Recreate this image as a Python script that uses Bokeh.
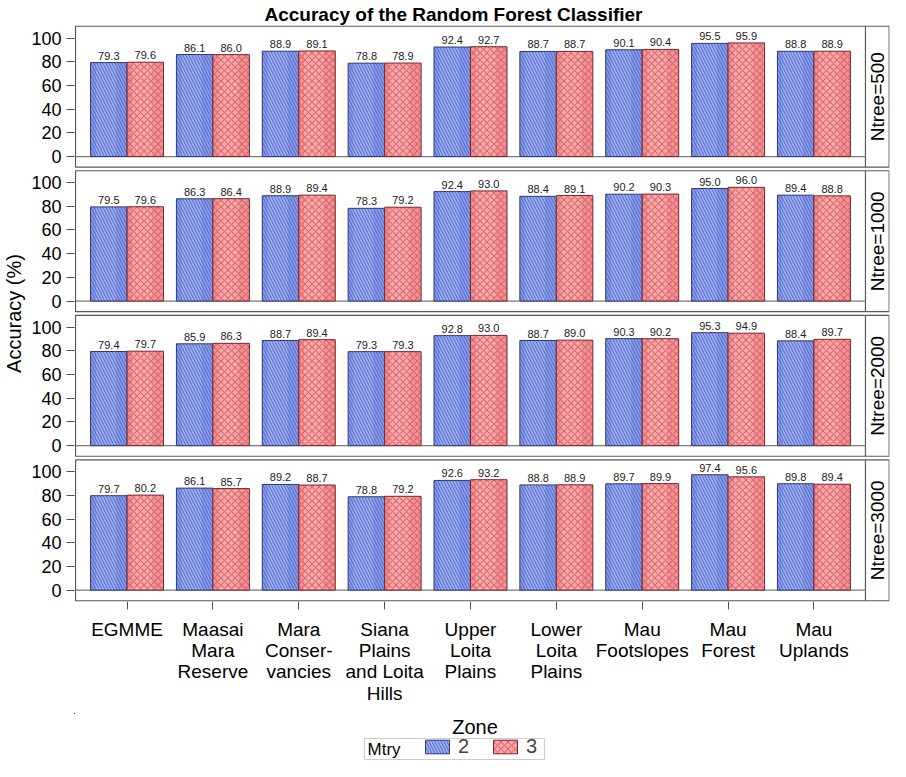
import math
from bokeh.plotting import figure
from bokeh.layouts import column
from bokeh.models import (ColumnDataSource, FixedTicker, Range1d, Legend, LegendItem,
                          Title, Label, BoxAnnotation)
from bokeh.transform import dodge
from bokeh.core.properties import value
from bokeh.embed import file_html
from bokeh.resources import INLINE

# ---------------- data ----------------
zones = ["EGMME", "Maasai\nMara\nReserve", "Mara\nConser-\nvancies",
         "Siana\nPlains\nand Loita\nHills", "Upper\nLoita\nPlains",
         "Lower\nLoita\nPlains", "Mau\nFootslopes", "Mau\nForest", "Mau\nUplands"]
ntree_labels = ["Ntree=500", "Ntree=1000", "Ntree=2000", "Ntree=3000"]
mtry_labels = ["2", "3"]
y_ticks = [0, 20, 40, 60, 80, 100]

acc_500_m2 = [79.3, 86.1, 88.9, 78.8, 92.4, 88.7, 90.1, 95.5, 88.8]
acc_500_m3 = [79.6, 86.0, 89.1, 78.9, 92.7, 88.7, 90.4, 95.9, 88.9]
acc_1000_m2 = [79.5, 86.3, 88.9, 78.3, 92.4, 88.4, 90.2, 95.0, 89.4]
acc_1000_m3 = [79.6, 86.4, 89.4, 79.2, 93.0, 89.1, 90.3, 96.0, 88.8]
acc_2000_m2 = [79.4, 85.9, 88.7, 79.3, 92.8, 88.7, 90.3, 95.3, 88.4]
acc_2000_m3 = [79.7, 86.3, 89.4, 79.3, 93.0, 89.0, 90.2, 94.9, 89.7]
acc_3000_m2 = [79.7, 86.1, 89.2, 78.8, 92.6, 88.8, 89.7, 97.4, 89.8]
acc_3000_m3 = [80.2, 85.7, 88.7, 79.2, 93.2, 88.9, 89.9, 95.6, 89.4]

series_m2 = [acc_500_m2, acc_1000_m2, acc_2000_m2, acc_3000_m2]
series_m3 = [acc_500_m3, acc_1000_m3, acc_2000_m3, acc_3000_m3]

# ---------------- layout constants ----------------
FONT = "Liberation Sans"
Y_LO, Y_HI = -9, 110          # visible value span of one panel
STEP = 122                    # panel span + gap, in value units
X_LO, X_MAIN, X_HI = -0.6, 8.6, 8.876
BAR_W = 0.425
n_pan = len(ntree_labels)
W, H_MAIN, H_LEG = 890, 713, 48
TOP_B, BOT_B, LEFT_B = 20, 112, 64

BLUE = dict(base="#8a9fe4", light="#b8c6f4", hatch="\\", hatch_col="#5062d2",
            line="#303a72", scale=6)
RED = dict(base="#f09495", light="#ffc0c0", hatch="x", hatch_col="#d65a64",
           line="#7a2630", scale=7)

def base_of(k):
    return (n_pan - 1 - k) * STEP

def make_source(series):
    xs, bottoms, tops, labels = [], [], [], []
    for k, vals in enumerate(series):
        b = base_of(k)
        for i, v in enumerate(vals):
            xs.append(i)
            bottoms.append(b)
            tops.append(b + v)
            labels.append(f"{v:.1f}")
    return ColumnDataSource(dict(x=xs, bottom=bottoms, top=tops, label=labels))

src2 = make_source(series_m2)
src3 = make_source(series_m3)

p = figure(width=W, height=H_MAIN, output_backend="svg", toolbar_location=None,
           x_range=Range1d(X_LO - 0.012, X_HI + 0.004),
           y_range=Range1d(Y_LO - 0.6, base_of(0) + Y_HI + 0.6),
           title=Title(text="Accuracy of the Random Forest Classifier", align="left",
                       offset=190, text_font_size="19px", text_font=FONT,
                       text_font_style="bold", text_color="black", standoff=2),
           min_border_left=LEFT_B, min_border_right=1, min_border_top=TOP_B,
           min_border_bottom=BOT_B)
p.outline_line_color = None
p.grid.visible = False
p.background_fill_color = "white"

# panel frames, strip dividers, zero lines, strip labels
bases = [base_of(k) for k in range(n_pan)]
frames = ColumnDataSource(dict(
    left=[X_LO] * n_pan, right=[X_HI] * n_pan,
    bottom=[b + Y_LO for b in bases], top=[b + Y_HI for b in bases],
    sx=[X_MAIN] * n_pan, base=bases, x0=[X_LO] * n_pan,
    tx=[(X_MAIN + X_HI) / 2] * n_pan, ty=[b + (Y_LO + Y_HI) / 2 for b in bases],
    name=ntree_labels))
p.quad(left="left", right="right", bottom="bottom", top="top", source=frames,
       fill_color=None, line_color="#5a5a5a", line_width=1.2)
p.segment(x0="sx", x1="sx", y0="bottom", y1="top", source=frames,
          line_color="#5a5a5a", line_width=1.2)
p.segment(x0="x0", x1="sx", y0="base", y1="base", source=frames,
          line_color="#7a7a7a", line_width=1.2)
p.text(x="tx", y="ty", text="name", source=frames, angle=math.pi / 2,
       text_align="center", text_baseline="middle", text_font=value(FONT),
       text_font_size="19px", text_color="black")

def bar_layers(fig, src, xd, xh, st):
    r1 = fig.vbar(x=xd, width=BAR_W, bottom="bottom", top="top", source=src,
                  fill_color=st["base"], line_color=None)
    r2 = fig.vbar(x=xh, width=BAR_W * 0.55, bottom="bottom", top="top", source=src,
                  fill_color=st["light"], fill_alpha=0.5, line_color=None)
    r3 = fig.vbar(x=xd, width=BAR_W, bottom="bottom", top="top", source=src,
                  fill_color=None, hatch_pattern=st["hatch"], hatch_color=st["hatch_col"],
                  hatch_scale=st["scale"], hatch_weight=1.1, hatch_alpha=0.85,
                  line_color=st["line"], line_width=1)
    return [r1, r2, r3]

def bars(src, offset, st):
    xd = dodge("x", offset, range=p.x_range)
    xh = dodge("x", offset - BAR_W * 0.08, range=p.x_range)
    bar_layers(p, src, xd, xh, st)
    p.text(x=xd, y="top", text="label", source=src, text_align="center",
           text_baseline="bottom", y_offset=-3, text_font=value(FONT),
           text_font_size="11px", text_color="#222222")

bars(src2, -BAR_W / 2, BLUE)
bars(src3, BAR_W / 2, RED)

# axes
yt = []
yo = {}
for b in bases:
    for t in y_ticks:
        yt.append(b + t)
        yo[b + t] = str(t)
p.yaxis.ticker = FixedTicker(ticks=yt)
p.yaxis.major_label_overrides = yo
p.yaxis.axis_label = "Accuracy (%)"
p.xaxis.ticker = FixedTicker(ticks=list(range(len(zones))))
p.xaxis.major_label_overrides = {i: z for i, z in enumerate(zones)}
for ax in (p.xaxis[0], p.yaxis[0]):
    ax.axis_line_color = None
    ax.major_tick_in = 0
    ax.major_tick_out = 8
    ax.major_tick_line_color = "#555555"
    ax.minor_tick_line_color = None
    ax.major_label_text_font = FONT
    ax.major_label_text_font_size = "18px"
    ax.major_label_text_color = "black"
    ax.axis_label_text_font = FONT
    ax.axis_label_text_font_size = "20px"
    ax.axis_label_text_font_style = "normal"
    ax.axis_label_text_color = "black"
p.xaxis.major_label_text_font_size = "19px"
p.xaxis.major_label_text_line_height = 1.02
p.yaxis.major_label_standoff = 5
p.yaxis.axis_label_standoff = 3
p.xaxis.major_label_standoff = 9

# ---------------- x-axis title and legend strip ----------------
# frames of a column are aligned, so screen units below are relative to the frame left
lg = figure(width=W, height=H_LEG, output_backend="svg", toolbar_location=None,
            x_range=Range1d(100, 110), y_range=Range1d(-1000, -990),
            x_axis_type=None, y_axis_type=None, min_border=0,
            min_border_left=LEFT_B, min_border_right=1)
lg.outline_line_color = None
lg.grid.visible = False
lb = bar_layers(lg, src2, "x", "x", BLUE)     # legend proxies, outside the visible range
lr = bar_layers(lg, src3, "x", "x", RED)

main_w = (W - LEFT_B - 1) * (X_MAIN - X_LO) / (X_HI - X_LO)
lg.add_layout(Label(x=main_w / 2, y=H_LEG - 13, x_units="screen", y_units="screen",
                    text="Zone", text_font=FONT, text_font_size="20px",
                    text_align="center", text_baseline="middle", text_color="black"))

LEG_L, LEG_B, LEG_W, LEG_H = 290, 2, 180, 21
lg.add_layout(BoxAnnotation(left=LEG_L, right=LEG_L + LEG_W, bottom=LEG_B, top=LEG_B + LEG_H,
                            left_units="screen", right_units="screen",
                            bottom_units="screen", top_units="screen",
                            fill_color=None, line_color="#555555", line_width=1.2))
lg.add_layout(Label(x=LEG_L + 3, y=LEG_B + LEG_H / 2, x_units="screen", y_units="screen",
                    text="Mtry", text_font=FONT, text_font_size="17px",
                    text_baseline="middle", text_color="black"))
legend = Legend(items=[LegendItem(label=mtry_labels[0], renderers=lb),
                       LegendItem(label=mtry_labels[1], renderers=lr)],
                orientation="horizontal", location=(LEG_L + 58, LEG_B + 1),
                border_line_color=None, background_fill_color=None,
                label_text_font=FONT, label_text_font_size="20px",
                label_standoff=6, glyph_width=30, glyph_height=17,
                spacing=12, padding=1, margin=0, label_height=17)
lg.add_layout(legend, "center")

layout = column(p, lg, spacing=0)
open("out.html", "w").write(file_html(layout, INLINE))
